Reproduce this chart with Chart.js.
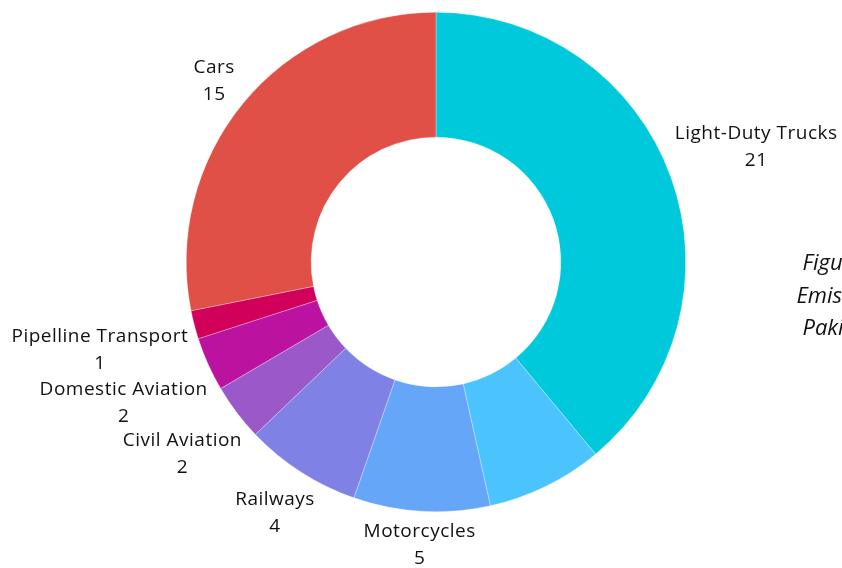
<!DOCTYPE html>
<html>
<head>
<meta charset="utf-8">
<script src="https://cdn.jsdelivr.net/npm/chart.js@4.4.1/dist/chart.umd.min.js"></script>
<style>
  html, body { margin: 0; padding: 0; background: #fff; overflow: hidden; }
  #wrap { position: relative; width: 842px; height: 568px; overflow: hidden; }
  #caption {
    position: absolute; left: 744px; top: 245px; width: 200px;
    font-family: "Open Sans", sans-serif; font-style: italic; font-size: 22px;
    line-height: 32.5px; text-align: center; color: #111; white-space: nowrap;
  }
</style>
</head>
<body>
<div id="wrap">
  <canvas id="myChart" width="842" height="568"></canvas>
  <div id="caption">Figure 1:<br>Emissions<br>Pakistan</div>
</div>
<script>
// 데이터 (12시 방향부터 시계방향)
var categories = ['Light-Duty Trucks', '', 'Motorcycles', 'Railways', 'Civil Aviation', 'Domestic Aviation', 'Pipelline Transport', 'Cars'];
var values = [21.2, 4.1, 4.8, 4.1, 2.0, 1.9, 1.0, 15.3];
var colors = ['#00c9dc', '#4bc4fe', '#66a6f8', '#7f82e4', '#9b58c9', '#bb12a0', '#d1005a', '#e05047'];

// 조각 바깥쪽에 이름 + 값 표시
var outsideLabels = {
    id: 'outsideLabels',
    afterDatasetsDraw: function(chart) {
        var ctx = chart.ctx;
        var meta = chart.getDatasetMeta(0);
        var lineH = 27;
        var halfH = 24;
        var pad = 6;
        ctx.save();
        ctx.font = '500 19px "Open Sans", sans-serif';
        ctx.letterSpacing = '0.5px';
        ctx.fillStyle = '#111';
        ctx.textAlign = 'center';
        ctx.textBaseline = 'middle';
        for (var i = 0; i < meta.data.length; i++) {
            var name = chart.data.labels[i];
            if (!name) continue;
            var arc = meta.data[i];
            var mid = (arc.startAngle + arc.endAngle) / 2;
            var dx = Math.cos(mid);
            var dy = Math.sin(mid);
            var valTxt = String(Math.round(chart.data.datasets[0].data[i]));
            var w = Math.max(ctx.measureText(name).width, ctx.measureText(valTxt).width);
            // 글상자 크기를 방향에 투영해서 원 바깥에 붙임
            var d = arc.outerRadius + pad + (w / 2) * Math.abs(dx) + halfH * Math.abs(dy);
            var cx = arc.x + dx * d;
            var cy = arc.y + dy * d + 1;
            ctx.fillText(name, cx, cy - lineH / 2);
            ctx.fillText(valTxt, cx, cy + lineH / 2);
        }
        ctx.restore();
    }
};

var ctx1 = document.getElementById('myChart').getContext('2d');
var myChart = new Chart(ctx1, {
    type: 'doughnut',
    data: {
        labels: categories,
        datasets: [{
            data: values,
            backgroundColor: colors,
            borderColor: 'rgba(255,255,255,0.6)',
            borderWidth: 0.5
        }]
    },
    options: {
        responsive: false,
        animation: false,
        cutout: '50%',
        layout: { padding: { left: 186, right: 156, top: 12, bottom: 56 } },
        plugins: {
            legend: { display: false },
            tooltip: { enabled: false }
        }
    },
    plugins: [outsideLabels]
});
</script>
</body>
</html>
